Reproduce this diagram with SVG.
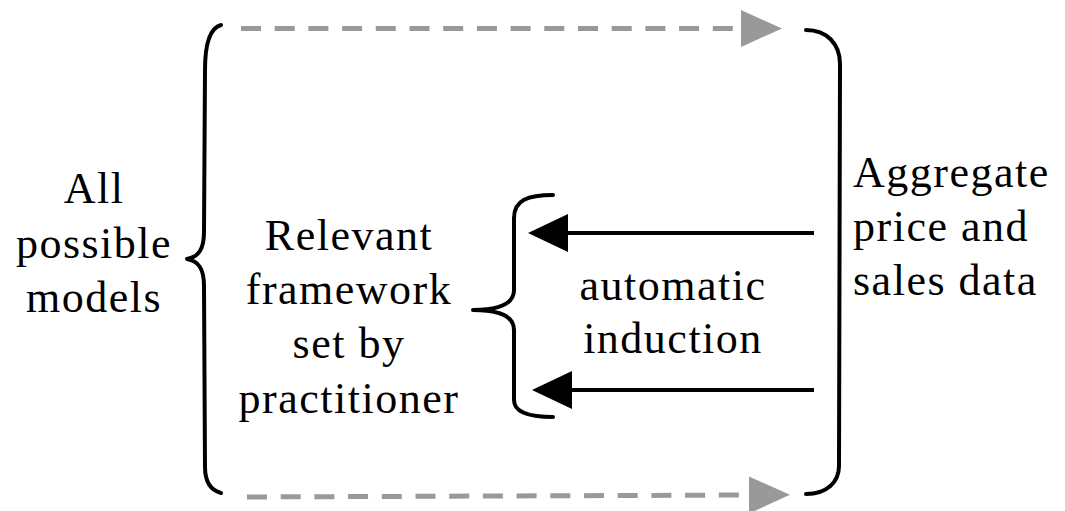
<svg xmlns="http://www.w3.org/2000/svg" width="1065" height="511" viewBox="0 0 1065 511">
  <style>
    .lbl { font-family: "Liberation Serif", "Times New Roman", serif; font-size: 44px; fill: #000; letter-spacing: 1.5px; }
    .mid { text-anchor: middle; }
    .brace { fill: none; stroke: #000; stroke-width: 4; stroke-linecap: round; stroke-linejoin: round; }
    .dash { fill: none; stroke: #999; stroke-width: 5; stroke-dasharray: 20 13.7; }
    .solid { fill: none; stroke: #000; stroke-width: 4; }
  </style>
  <defs>
    <marker id="grayHead" markerUnits="userSpaceOnUse" markerWidth="42" markerHeight="38" refX="0" refY="18.5" orient="auto">
      <path d="M0,0 L41,18.5 L0,37 z" fill="#999"/>
    </marker>
    <marker id="blackHead" markerUnits="userSpaceOnUse" markerWidth="42" markerHeight="40" refX="0" refY="19" orient="auto">
      <path d="M0,0 L40,19 L0,38 z" fill="#000"/>
    </marker>
  </defs>

  <rect width="1065" height="511" fill="#fff"/>

  <!-- outer set: all possible models -->
  <g id="all-models">
    <path class="brace" d="M221,25 C210,28 205,45 205,70 L204,232 C204,250 198,257 187,259 C198,261 204,268 204,286 L205,467 C205,482 210,490 221,493"/>
    <text class="lbl mid" x="94" y="203">All</text>
    <text class="lbl mid" x="94" y="258">possible</text>
    <text class="lbl mid" x="94" y="312">models</text>
  </g>

  <!-- practitioner-defined framework -->
  <g id="framework">
    <path class="brace" d="M553,195 C528,195 514,200 514,218 L514,290 C514,303 500,310 473,310 C500,310 514,317 514,330 L514,400 C514,412 528,417 553,417"/>
    <text class="lbl mid" x="349" y="250">Relevant</text>
    <text class="lbl mid" x="349" y="304">framework</text>
    <text class="lbl mid" x="349" y="358">set by</text>
    <text class="lbl mid" x="349" y="413">practitioner</text>
  </g>

  <!-- data source -->
  <g id="data">
    <path class="brace" d="M806,30 C827,30 840,44 840,64 L839,466 C839,482 827,494 806,494"/>
    <text class="lbl" x="853" y="187">Aggregate</text>
    <text class="lbl" x="853" y="241">price and</text>
    <text class="lbl" x="853" y="295">sales data</text>
  </g>

  <g id="induction-label">
    <text class="lbl mid" x="673" y="300">automatic</text>
    <text class="lbl mid" x="673" y="353">induction</text>
  </g>

  <!-- connectors -->
  <g id="connectors">
    <line class="dash" x1="241" y1="28.5" x2="741" y2="28.5" marker-end="url(#grayHead)"/>
    <line class="dash" x1="247" y1="497" x2="749" y2="495" marker-end="url(#grayHead)"/>
    <line class="solid" x1="814" y1="233" x2="568" y2="233" marker-end="url(#blackHead)"/>
    <line class="solid" x1="814" y1="390" x2="572" y2="390" marker-end="url(#blackHead)"/>
  </g>
</svg>
